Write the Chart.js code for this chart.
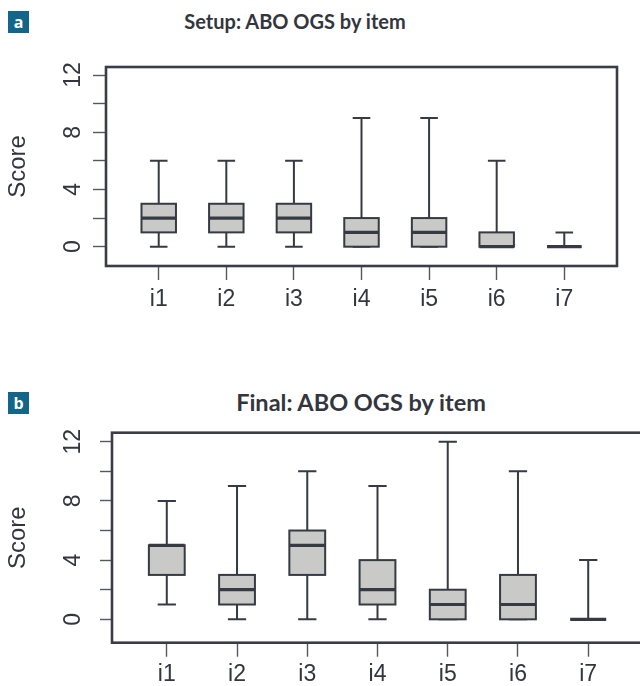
<!DOCTYPE html>
<html>
<head>
<meta charset="utf-8">
<script src="https://cdn.jsdelivr.net/npm/chart.js@4.4.1/dist/chart.umd.min.js"></script>
<style>
  html, body { margin:0; padding:0; background:#fff; }
  body { width:640px; height:686px; overflow:hidden; position:relative; }
  .badge { position:absolute; background:#11668a; color:#fff; font-family:"Open Sans", sans-serif; font-weight:700;
           font-size:16px; line-height:22px; text-align:center; width:21px; height:22px; }
  .title { position:absolute; width:440px; text-align:center; font-family:Lato, "Open Sans", sans-serif; font-weight:700;
           color:#33363d; white-space:nowrap; }
  canvas { position:absolute; left:0; }
</style>
</head>
<body>
<div class="badge" style="left:8px; top:11px;">a</div>
<div class="title" style="left:75px; top:9px; font-size:20px;">Setup: ABO OGS by item</div>
<canvas id="ca" width="640" height="330" style="top:0px;"></canvas>
<div class="badge" style="left:8px; top:392px;">b</div>
<div class="title" style="left:141px; top:388px; font-size:23.5px;">Final: ABO OGS by item</div>
<canvas id="cb" width="660" height="346" style="top:340px;"></canvas>
<script>
const categories = ['i1','i2','i3','i4','i5','i6','i7'];
// Setup panel (a)
const setupMin = [0,0,0,0,0,0,0];
const setupQ1  = [1,1,1,0,0,0,0];
const setupMed = [2,2,2,1,1,0,0];
const setupQ3  = [3,3,3,2,2,1,0];
const setupMax = [6,6,6,9,9,6,1];
// Final panel (b)
const finalMin = [1,0,0,0,0,0,0];
const finalQ1  = [3,1,3,1,0,0,0];
const finalMed = [5,2,5,2,1,1,0];
const finalQ3  = [5,3,6,4,2,3,0];
const finalMax = [8,9,10,9,12,10,4];
// Axis ticks
const yTicks = [0,2,4,6,8,10,12];
const yLabelled = [0,4,8,12];

const LINE = '#363a42';
const FILL = '#c9cac8';

const boxPlugin = {
  id: 'boxes',
  afterDatasetsDraw(chart, args, opts) {
    const {ctx, chartArea: ca, scales: {x, y}} = chart;
    const s = opts.stats;
    const boxW = 0.51, capW = 0.26;
    ctx.save();
    ctx.strokeStyle = LINE;
    ctx.lineCap = 'butt';
    for (let i = 0; i < categories.length; i++) {
      const cx = x.getPixelForValue(i + 1);
      const hb = (x.getPixelForValue(i + 1 + boxW / 2) - cx);
      const hc = (x.getPixelForValue(i + 1 + capW / 2) - cx);
      const pMin = y.getPixelForValue(s.min[i]);
      const pQ1 = y.getPixelForValue(s.q1[i]);
      const pMed = y.getPixelForValue(s.med[i]);
      const pQ3 = y.getPixelForValue(s.q3[i]);
      const pMax = y.getPixelForValue(s.max[i]);
      ctx.lineWidth = 2;
      // whiskers
      ctx.beginPath();
      ctx.moveTo(cx, pQ3); ctx.lineTo(cx, pMax);
      ctx.moveTo(cx, pQ1); ctx.lineTo(cx, pMin);
      // caps
      ctx.moveTo(cx - hc, pMax); ctx.lineTo(cx + hc, pMax);
      ctx.moveTo(cx - hc, pMin); ctx.lineTo(cx + hc, pMin);
      ctx.stroke();
      // box
      ctx.fillStyle = FILL;
      ctx.fillRect(cx - hb, pQ3, 2 * hb, pQ1 - pQ3);
      ctx.strokeRect(cx - hb, pQ3, 2 * hb, pQ1 - pQ3);
      // median
      ctx.lineWidth = 3.2;
      ctx.beginPath();
      ctx.moveTo(cx - hb, pMed); ctx.lineTo(cx + hb, pMed);
      ctx.stroke();
    }
    // frame
    ctx.lineWidth = 2.6;
    ctx.strokeStyle = '#3a3d45';
    ctx.strokeRect(ca.left, ca.top, ca.right - ca.left, ca.bottom - ca.top);
    ctx.restore();
  }
};

function makeChart(id, stats, cfg) {
  return new Chart(document.getElementById(id), {
    type: 'scatter',
    data: {
      datasets: [{
        data: categories.map((c, i) => ({x: i + 1, y: stats.med[i]})),
        pointRadius: 0, showLine: false
      }]
    },
    options: {
      responsive: false,
      animation: false,
      events: [],
      layout: { padding: cfg.padding },
      plugins: { legend: {display: false}, tooltip: {enabled: false}, title: {display: false},
                 boxes: { stats } },
      scales: {
        x: {
          type: 'linear', min: 0.22, max: 7.78,
          afterBuildTicks: (sc) => { sc.ticks = categories.map((c, i) => ({value: i + 1})); },
          afterFit: (sc) => { sc.height = cfg.xHeight; },
          border: { display: false },
          grid: { drawOnChartArea: false, drawTicks: true, tickLength: cfg.xTickLen, tickColor: '#55585e', tickWidth: 1.4 },
          ticks: {
            autoSkip: false, maxRotation: 0, minRotation: 0, padding: cfg.xPad,
            color: '#33363d', font: { family: '"Liberation Sans", Arial, sans-serif', size: 23 },
            callback: (v) => categories[Math.round(v) - 1]
          }
        },
        y: {
          type: 'linear', min: cfg.yMin, max: cfg.yMax,
          afterBuildTicks: (sc) => { sc.ticks = yTicks.map(v => ({value: v})); },
          afterFit: (sc) => { sc.width = cfg.yWidth; },
          border: { display: false },
          grid: { drawOnChartArea: false, drawTicks: true, tickLength: cfg.yTickLen, tickColor: '#55585e', tickWidth: 1.4 },
          ticks: {
            autoSkip: false, minRotation: 90, maxRotation: 90, crossAlign: 'center', padding: cfg.yPad,
            color: '#33363d', font: { family: '"Liberation Sans", Arial, sans-serif', size: 23 },
            callback: (v) => yLabelled.includes(v) ? String(v) : ''
          },
          title: {
            display: true, text: 'Score', color: '#33363d',
            font: { family: '"Liberation Sans", Arial, sans-serif', size: 24 },
            padding: { top: 4, bottom: 0 }
          }
        }
      }
    },
    plugins: [boxPlugin]
  });
}

makeChart('ca', {min: setupMin, q1: setupQ1, med: setupMed, q3: setupQ3, max: setupMax}, {
  padding: {top: 67, right: 23, left: 0, bottom: 0},
  xHeight: 64, yWidth: 106, yMin: -1.35, yMax: 12.56,
  xTickLen: 14, xPad: 6, yTickLen: 13, yPad: 7
});
makeChart('cb', {min: finalMin, q1: finalQ1, med: finalMed, q3: finalQ3, max: finalMax}, {
  padding: {top: 92.7, right: 17, left: 0, bottom: 0},
  xHeight: 43.3, yWidth: 112, yMin: -1.58, yMax: 12.61,
  xTickLen: 14, xPad: 4.5, yTickLen: 12, yPad: 13.5
});
</script>
</body>
</html>
